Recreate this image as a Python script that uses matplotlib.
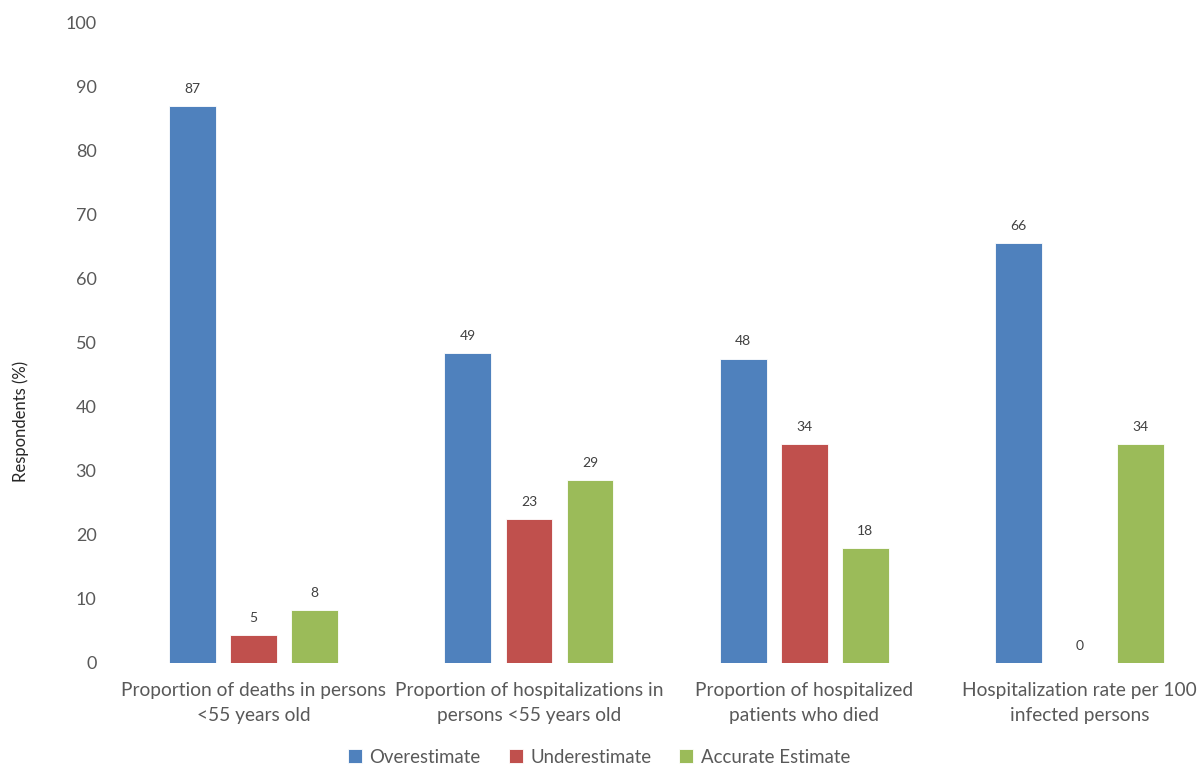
import numpy as np
import matplotlib.pyplot as plt

plt.rcParams['font.family'] = ['Lato', 'DejaVu Sans']

categories = ["Proportion of deaths in persons\n<55 years old",
              "Proportion of hospitalizations in\npersons <55 years old",
              "Proportion of hospitalized\npatients who died",
              "Hospitalization rate per 100\ninfected persons"]
series = ["Overestimate", "Underestimate", "Accurate Estimate"]
overestimate = [86.9, 48.3, 47.5, 65.5]
underestimate = [4.4, 22.5, 34.1, 0]
accurate = [8.2, 28.6, 17.9, 34.2]
over_labels = ["87", "49", "48", "66"]
under_labels = ["5", "23", "34", "0"]
acc_labels = ["8", "29", "18", "34"]
colors = ["#4F81BD", "#C0504D", "#9BBB59"]

text_col = "#595959"

fig = plt.figure(figsize=(11.98, 7.67), dpi=100)
ax = fig.add_axes([0.0968, 0.1356, 0.9032, 0.8357])

x = np.arange(len(categories))
step = 0.222
width = 0.17
data = [overestimate, underestimate, accurate]
labels = [over_labels, under_labels, acc_labels]
for i, (vals, labs) in enumerate(zip(data, labels)):
    pos = x + (i - 1) * step
    ax.bar(pos, vals, width, color=colors[i], label=series[i],
           edgecolor="white", linewidth=0.6)
    for p, v, lab in zip(pos, vals, labs):
        ax.annotate(lab, (p, v), xytext=(0, 8), textcoords="offset points",
                    ha="center", va="bottom", fontsize=10, color="#404040")

ax.set_xlim(-0.5, 3.43)
ax.set_ylim(0, 100)
ax.set_yticks(range(0, 101, 10))
ax.set_xticks(x)
ax.set_xticklabels(categories, fontsize=13.8, color=text_col, linespacing=1.55)
ax.tick_params(axis="y", labelsize=13, labelcolor=text_col, length=0, pad=14)
ax.tick_params(axis="x", length=0, pad=14)
for s in ax.spines.values():
    s.set_visible(False)

fig.text(0.017, 0.45, "Respondents (%)", rotation=90, ha="center", va="center",
         fontsize=12, color="#262626")

fig.legend(loc="center", bbox_to_anchor=(0.5, 0.013),
           ncol=3, frameon=False, fontsize=13.4, handlelength=0.75, handleheight=0.75,
           columnspacing=1.5, handletextpad=0.4, labelcolor=text_col)

fig.savefig("out.png", dpi=100)
